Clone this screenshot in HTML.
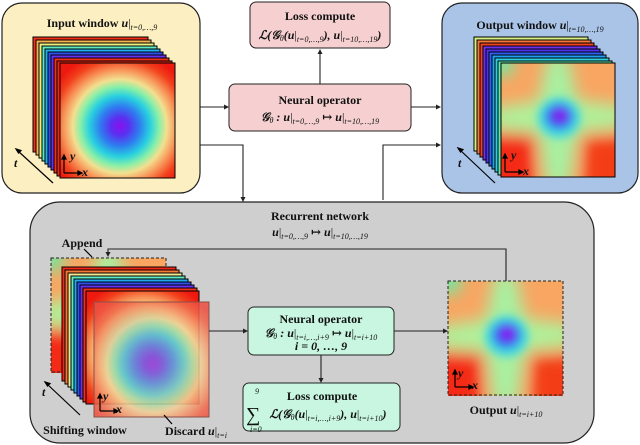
<!DOCTYPE html>
<html><head><meta charset="utf-8"><style>
html,body{margin:0;padding:0;background:#fff;}
svg{display:block;}
svg text, svg tspan{font-family:"Liberation Serif","DejaVu Serif",serif;fill:#111;}
.b{font-weight:bold;font-size:12px;}
.m{font-style:italic;font-weight:bold;font-size:12px;}
.s{font-style:italic;font-size:8px;}
</style></head><body>
<svg width="640" height="445" viewBox="0 0 640 445" xmlns="http://www.w3.org/2000/svg" font-family="Liberation Serif, serif">
<defs>
<radialGradient id="gin" cx="0.52" cy="0.55" r="0.66">
<stop offset="0" stop-color="#8a10f0"/>
<stop offset="0.12" stop-color="#5a30f0"/>
<stop offset="0.26" stop-color="#2f7cf0"/>
<stop offset="0.40" stop-color="#28d0e0"/>
<stop offset="0.52" stop-color="#88f0a8"/>
<stop offset="0.62" stop-color="#f2e090"/>
<stop offset="0.74" stop-color="#f8965a"/>
<stop offset="0.88" stop-color="#f2401c"/>
<stop offset="1" stop-color="#ee1a10"/>
</radialGradient>
<filter id="bl" filterUnits="userSpaceOnUse" x="-30" y="-30" width="160" height="160"><feGaussianBlur stdDeviation="7"/></filter>
<filter id="bl2" filterUnits="userSpaceOnUse" x="-30" y="-30" width="160" height="160"><feGaussianBlur stdDeviation="4"/></filter>
<clipPath id="cp"><rect x="0" y="0" width="100" height="100"/></clipPath>
<g id="hin"><rect x="0" y="0" width="100" height="100" fill="url(#gin)"/></g>
<g id="hout" clip-path="url(#cp)">
<rect x="0" y="0" width="100" height="100" fill="#f8a662"/>
<g filter="url(#bl)">
<rect x="-15" y="62" width="45" height="55" fill="#f42a12"/>
<rect x="72" y="64" width="45" height="55" fill="#f33e18"/>
<path d="M42 -10 L58 -10 L70 45 L60 110 L40 110 L30 45Z" fill="#a8f0a0"/>
<path d="M-10 40 L50 30 L110 38 L110 56 L50 64 L-10 58Z" fill="#b0f09a"/>
<rect x="-10" y="-10" width="20" height="20" fill="#60f0a8"/>
</g>
<g filter="url(#bl2)">
<ellipse cx="51" cy="48" rx="19" ry="18" fill="#40d8e0"/>
<ellipse cx="51" cy="47" rx="12" ry="11" fill="#3a50f0"/>
<ellipse cx="52" cy="46" rx="6" ry="5" fill="#8a10f0"/>
</g>
</g>
</defs>

<!-- Input window -->
<rect x="2" y="3" width="198" height="190" rx="20" fill="#fcefc2" stroke="#222" stroke-width="1.2"/>
<text x="102" y="27" text-anchor="middle"><tspan class="b">Input window </tspan><tspan class="m">u</tspan><tspan font-size="12">|</tspan><tspan class="s" dy="3">t=0,…,9</tspan></text>
<g stroke="#000" stroke-width="1">
<rect x="33" y="37" width="115" height="115" fill="#f2301a"/>
<rect x="36" y="40" width="115" height="115" fill="#f8b050"/>
<rect x="39" y="43" width="115" height="115" fill="#e8f080"/>
<rect x="42" y="46" width="115" height="115" fill="#60e8c0"/>
<rect x="45" y="49" width="115" height="115" fill="#20b0f0"/>
<rect x="48" y="52" width="115" height="115" fill="#3050f0"/>
<rect x="51" y="55" width="115" height="115" fill="#6a30f0"/>
<rect x="54" y="58" width="115" height="115" fill="#f03018"/>
<rect x="57" y="61" width="115" height="115" fill="#f02818"/>
</g>
<use href="#hin" transform="translate(60,63) scale(1.15)"/>
<rect x="60" y="63" width="115" height="115" fill="none" stroke="#000"/>
<g stroke="#000" stroke-width="1.2" fill="#000">
<path d="M64 173V158M64 173H79" fill="none"/><path d="M64 155l-2 4h4zM82 173l-4-2v4z"/>
<path d="M53 183L18 151" fill="none"/><path d="M16 149l5 1.5-2.5 2.5z"/>
</g>
<text x="70" y="160" class="m" font-weight="normal">y</text><text x="82" y="176" class="m" font-weight="normal">x</text>
<text x="14" y="167" class="m" font-weight="normal">t</text>

<!-- Top loss compute -->
<rect x="250" y="2" width="140" height="46" rx="6" fill="#f6d0d0" stroke="#222"/>
<text x="320" y="20" text-anchor="middle" class="b">Loss compute</text>
<text x="320" y="39" text-anchor="middle"><tspan class="m">ℒ(𝒢</tspan><tspan class="s" dy="2">θ</tspan><tspan class="m" dy="-2">(u</tspan><tspan font-size="12">|</tspan><tspan class="s" dy="3">t=0,…,9</tspan><tspan class="m" dy="-3">), u</tspan><tspan font-size="12">|</tspan><tspan class="s" dy="3">t=10,…,19</tspan><tspan class="m" dy="-3">)</tspan></text>

<!-- Neural operator top -->
<rect x="229" y="84" width="182" height="47" rx="6" fill="#f6d0d0" stroke="#222"/>
<text x="320" y="104" text-anchor="middle" class="b">Neural operator</text>
<text x="320" y="121" text-anchor="middle"><tspan class="m">𝒢</tspan><tspan class="s" dy="2">θ</tspan><tspan class="m" dy="-2"> : u</tspan><tspan font-size="12">|</tspan><tspan class="s" dy="3">t=0,…,9</tspan><tspan class="m" dy="-3"> ↦ u</tspan><tspan font-size="12">|</tspan><tspan class="s" dy="3">t=10,…,19</tspan></text>

<!-- Output window -->
<rect x="442" y="3" width="196" height="190" rx="20" fill="#aac4e8" stroke="#222" stroke-width="1.2"/>
<text x="540" y="29" text-anchor="middle"><tspan class="b">Output window </tspan><tspan class="m">u</tspan><tspan font-size="12">|</tspan><tspan class="s" dy="3">t=10,…,19</tspan></text>
<g stroke="#000" stroke-width="1">
<rect x="474" y="37" width="114" height="114" fill="#d8f080"/>
<rect x="477" y="40" width="114" height="114" fill="#f87838"/>
<rect x="480" y="43" width="114" height="114" fill="#f04020"/>
<rect x="483" y="46" width="114" height="114" fill="#7030f0"/>
<rect x="486" y="49" width="114" height="114" fill="#5030f0"/>
<rect x="489" y="52" width="114" height="114" fill="#3060f0"/>
<rect x="492" y="55" width="114" height="114" fill="#20a0f0"/>
<rect x="495" y="58" width="114" height="114" fill="#30d0e0"/>
<rect x="498" y="61" width="114" height="114" fill="#60e8b0"/>
</g>
<use href="#hout" transform="translate(501,63) scale(1.14)"/>
<rect x="501" y="63" width="114" height="114" fill="none" stroke="#000"/>
<g stroke="#000" stroke-width="1.2" fill="#000">
<path d="M505 172V157M505 172H520" fill="none"/><path d="M505 154l-2 4h4zM523 172l-4-2v4z"/>
<path d="M495 183L460 150" fill="none"/><path d="M458 148l5 1.5-2.5 2.5z"/>
</g>
<text x="511" y="159" class="m" font-weight="normal">y</text><text x="523" y="175" class="m" font-weight="normal">x</text>
<text x="458" y="167" class="m" font-weight="normal">t</text>

<!-- Top connectors -->
<g stroke="#222" stroke-width="1.1" fill="none">
<path d="M200 107H226M411 107H438M320 84V52M200 145H243V199M383 200V145H438"/>
</g>
<g fill="#222">
<path d="M229 107l-5-2.5v5zM441 107l-5-2.5v5zM320 49l-2.5 5h5zM243 202l-2.5-5h5zM441 145l-5-2.5v5z"/>
</g>

<!-- Recurrent network -->
<rect x="30" y="202" width="564" height="241" rx="30" fill="#cfcfcf" stroke="#222" stroke-width="1.2"/>
<text x="320" y="220" text-anchor="middle" class="b">Recurrent network</text>
<text x="320" y="236" text-anchor="middle"><tspan class="m">u</tspan><tspan font-size="12">|</tspan><tspan class="s" dy="3">t=0,…,9</tspan><tspan class="m" dy="-3"> ↦ u</tspan><tspan font-size="12">|</tspan><tspan class="s" dy="3">t=10,…,19</tspan></text>

<!-- Append frame -->
<use href="#hout" transform="translate(51,258) scale(1.15)"/>
<rect x="51" y="258" width="115" height="114" fill="none" stroke="#222" stroke-dasharray="3,2"/>
<g stroke="#000" stroke-width="1">
<rect x="62" y="267" width="114" height="114" fill="#f02818"/>
<rect x="65" y="270" width="114" height="114" fill="#f87838"/>
<rect x="68" y="273" width="114" height="114" fill="#f0e890"/>
<rect x="71" y="276" width="114" height="114" fill="#60e8c0"/>
<rect x="74" y="279" width="114" height="114" fill="#20a8f0"/>
<rect x="77" y="282" width="114" height="114" fill="#3050f0"/>
<rect x="80" y="285" width="114" height="114" fill="#6a30f0"/>
<rect x="83" y="288" width="114" height="114" fill="#f03018"/>
</g>
<use href="#hin" transform="translate(86,291) scale(1.13)"/>
<rect x="86" y="291" width="113" height="113" fill="none" stroke="#000"/>
<!-- Discard overlay -->
<g opacity="0.8"><use href="#hin" transform="translate(94,302) scale(1.15)"/></g>
<rect x="94" y="302" width="115" height="115" fill="#f0b0a0" opacity="0.3"/>
<rect x="94" y="302" width="115" height="115" fill="none" stroke="#8a5048" stroke-width="1"/>
<g stroke="#000" stroke-width="1.2" fill="#000">
<path d="M100 411V397M100 411H115" fill="none"/><path d="M100 394l-2 4h4zM118 411l-4-2v4z"/>
<path d="M80 415L47 384" fill="none"/><path d="M45 382l5 1.5-2.5 2.5z"/>
<path d="M84 249L92 257M164 415L172 424" fill="none"/>
</g>
<text x="103" y="400" class="m" font-weight="normal">y</text><text x="116" y="413" class="m" font-weight="normal">x</text>
<text x="42" y="396" class="m" font-weight="normal">t</text>
<text x="82" y="247" text-anchor="middle" class="b">Append</text>
<text x="85" y="434" text-anchor="middle" class="b">Shifting window</text>
<text x="196" y="435" text-anchor="middle"><tspan class="b">Discard </tspan><tspan class="m">u</tspan><tspan font-size="12">|</tspan><tspan class="s" dy="3">t=i</tspan></text>

<!-- Green neural operator -->
<rect x="248" y="307" width="146" height="48" rx="6" fill="#c8f6e0" stroke="#222"/>
<text x="321" y="323" text-anchor="middle" class="b">Neural operator</text>
<text x="321" y="337" text-anchor="middle"><tspan class="m">𝒢</tspan><tspan class="s" dy="2">θ</tspan><tspan class="m" dy="-2"> : u</tspan><tspan font-size="12">|</tspan><tspan class="s" dy="3">t=i,…,i+9</tspan><tspan class="m" dy="-3"> ↦ u</tspan><tspan font-size="12">|</tspan><tspan class="s" dy="3">t=i+10</tspan></text>
<text x="321" y="350" text-anchor="middle" class="m">i = 0, …, 9</text>

<!-- Green loss compute -->
<rect x="243" y="383" width="157" height="48" rx="6" fill="#c8f6e0" stroke="#222"/>
<text x="322" y="400" text-anchor="middle" class="b">Loss compute</text>
<text x="246" y="421" font-size="20">∑</text>
<text x="255" y="394" class="s">9</text>
<text x="250" y="432" class="s">i=0</text>
<text x="328" y="418" text-anchor="middle"><tspan class="m">ℒ(𝒢</tspan><tspan class="s" dy="2">θ</tspan><tspan class="m" dy="-2">(u</tspan><tspan font-size="12">|</tspan><tspan class="s" dy="3">t=i,…,i+9</tspan><tspan class="m" dy="-3">), u</tspan><tspan font-size="12">|</tspan><tspan class="s" dy="3">t=i+10</tspan><tspan class="m" dy="-3">)</tspan></text>

<!-- Output frame -->
<use href="#hout" transform="translate(448,281) scale(1.15)"/>
<rect x="448" y="281" width="115" height="114" fill="none" stroke="#222" stroke-dasharray="3,2"/>
<g stroke="#000" stroke-width="1.2" fill="#000">
<path d="M455 387V373M455 387H470" fill="none"/><path d="M455 370l-2 4h4zM473 387l-4-2v4z"/>
</g>
<text x="458" y="377" class="m" font-weight="normal">y</text><text x="472" y="389" class="m" font-weight="normal">x</text>
<text x="506" y="414" text-anchor="middle"><tspan class="b">Output </tspan><tspan class="m">u</tspan><tspan font-size="12">|</tspan><tspan class="s" dy="3">t=i+10</tspan></text>

<!-- Recurrent connectors -->
<g stroke="#222" stroke-width="1.1" fill="none">
<path d="M506 281V249H108V254M209 331H245M394 331H445M321 355V380"/>
</g>
<g fill="#222">
<path d="M108 257l-2.5-5h5zM248 331l-5-2.5v5zM448 331l-5-2.5v5zM321 383l-2.5-5h5z"/>
</g>
</svg>
</body></html>
